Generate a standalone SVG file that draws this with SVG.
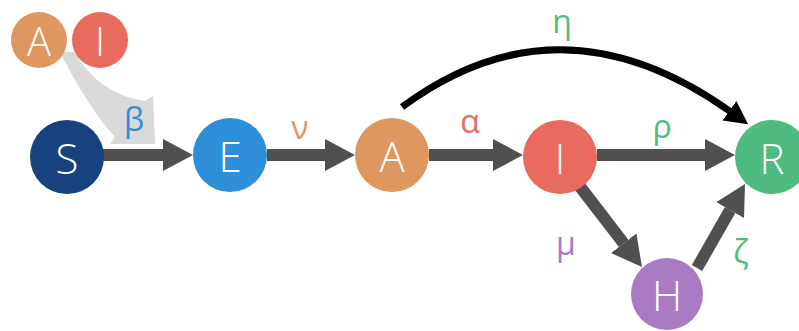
<svg xmlns="http://www.w3.org/2000/svg" width="799" height="331" viewBox="0 0 799 331">
  <style>
    .node-label { font-family: "Open Sans", "Noto Sans", "DejaVu Sans", sans-serif; font-size: 42px; font-weight: 300; fill: #ffffff; text-anchor: middle; dominant-baseline: central; }
    .small-label { font-size: 40px; }
    .rate { font-family: "Open Sans", "Noto Sans", "DejaVu Sans", sans-serif; font-size: 32px; text-anchor: middle; dominant-baseline: central; }
    .flow { stroke: #505050; stroke-width: 12; fill: none; }
    .eta { stroke: #000000; stroke-width: 7; fill: none; }
  </style>
  <defs>
    <marker id="head" markerUnits="userSpaceOnUse" markerWidth="32" markerHeight="34" viewBox="0 -17 32 34" refX="0" refY="0" orient="auto">
      <path d="M0,-16 L30,0 L0,16 Z" fill="#505050"/>
    </marker>
    <marker id="head-black" markerUnits="userSpaceOnUse" markerWidth="24" markerHeight="26" viewBox="0 -13 24 26" refX="2" refY="0" orient="auto">
      <path d="M0,-12 L23,0 L0,12 Z" fill="#000000"/>
    </marker>
  </defs>

  <!-- infection pressure from A and I onto S -> E -->
  <path id="force" d="M62,52 L74,52 Q100,95 145,101 L153,96 L155,144 L110,144 L115,137 Q90,110 62,56 Z" fill="#d9d9d9"/>

  <g id="connectors">
    <line class="flow" x1="103" y1="155" x2="163" y2="155" marker-end="url(#head)"/>
    <line class="flow" x1="267" y1="155" x2="325" y2="155" marker-end="url(#head)"/>
    <line class="flow" x1="429" y1="155" x2="493" y2="155" marker-end="url(#head)"/>
    <line class="flow" x1="597" y1="155" x2="705" y2="155" marker-end="url(#head)"/>
    <line class="flow" x1="578" y1="184" x2="623.7" y2="243.3" marker-end="url(#head)"/>
    <line class="flow" x1="697" y1="268" x2="730.1" y2="210.1" marker-end="url(#head)"/>
    <path class="eta" d="M402,107 Q560,-10 731,112" marker-end="url(#head-black)"/>
  </g>

  <g id="src-A">
    <circle cx="39" cy="40" r="28" fill="#e0975f"/>
    <text class="node-label small-label" x="39" y="40">A</text>
  </g>
  <g id="src-I">
    <circle cx="100" cy="40" r="28" fill="#e96b5e"/>
    <text class="node-label small-label" x="100" y="40">I</text>
  </g>

  <g id="node-S">
    <circle cx="67" cy="157" r="37" fill="#17427f"/>
    <text class="node-label" x="67" y="157">S</text>
  </g>
  <g id="node-E">
    <circle cx="230" cy="155" r="37" fill="#2e8fd8"/>
    <text class="node-label" x="230" y="155">E</text>
  </g>
  <g id="node-A">
    <circle cx="392" cy="155" r="37" fill="#e0975f"/>
    <text class="node-label" x="392" y="155">A</text>
  </g>
  <g id="node-I">
    <circle cx="560" cy="157" r="37" fill="#e96b5e"/>
    <text class="node-label" x="560" y="157">I</text>
  </g>
  <g id="node-R">
    <circle cx="772" cy="157" r="37" fill="#4fbc7f"/>
    <text class="node-label" x="772" y="157">R</text>
  </g>
  <g id="node-H">
    <circle cx="667" cy="294" r="36" fill="#a97ac4"/>
    <text class="node-label" x="667" y="294">H</text>
  </g>

  <g id="rates">
    <text class="rate" x="134" y="118" fill="#2e8fd8">β</text>
    <text class="rate" x="300" y="126" fill="#e0975f">ν</text>
    <text class="rate" x="470" y="120" fill="#e96b5e">α</text>
    <text class="rate" x="662" y="125" fill="#4fbc7f">ρ</text>
    <text class="rate" x="562" y="20" fill="#4fbc7f">η</text>
    <text class="rate" x="566" y="242" fill="#a97ac4">μ</text>
    <text class="rate" x="741" y="250" fill="#4fbc7f">ζ</text>
  </g>
</svg>
